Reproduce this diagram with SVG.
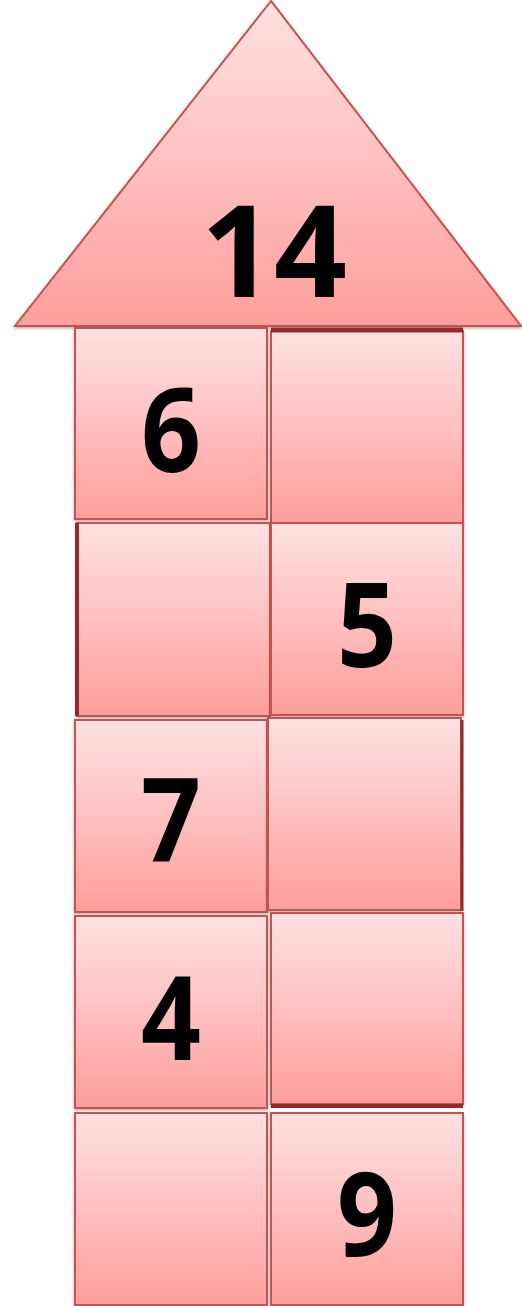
<svg xmlns="http://www.w3.org/2000/svg" width="522" height="1306" viewBox="0 0 522 1306">
<defs>
<linearGradient id="g" x1="0" y1="0" x2="0" y2="1">
<stop offset="0" stop-color="#fee1e1"/>
<stop offset="0.5" stop-color="#ffc0c0"/>
<stop offset="1" stop-color="#fd9e9b"/>
</linearGradient>
<filter id="sh" x="-10%" y="-10%" width="120%" height="120%">
<feDropShadow dx="0" dy="1.5" stdDeviation="1.5" flood-color="#555" flood-opacity="0.45"/>
</filter>
</defs>
<style>
.b{fill:url(#g);stroke:#c65250;stroke-width:2;filter:url(#sh)}
.t{font-family:"Open Sans","Liberation Sans",sans-serif;font-weight:700;fill:#000;text-anchor:middle}
.d{stroke:#922a2a;fill:none}
</style>
<g id="roof">
<polygon class="b" points="271,1 15,326 521,326"/>
<text class="t" x="274" y="297" font-size="128" textLength="146" lengthAdjust="spacingAndGlyphs">14</text>
</g>
<g id="r1l"><rect class="b" x="75" y="328" width="192" height="191"/><text class="t" x="171" y="472" font-size="117" textLength="60" lengthAdjust="spacingAndGlyphs">6</text></g>
<g id="r1r"><rect class="b" x="271" y="331" width="192" height="192"/><line class="d" x1="271" y1="330" x2="463" y2="330" stroke-width="5"/></g>
<g id="r2l"><rect class="b" x="77" y="523" width="193" height="193"/><line class="d" x1="77" y1="523" x2="77" y2="716" stroke-width="4"/></g>
<g id="r2r"><rect class="b" x="271" y="523" width="192" height="192"/><text class="t" x="367" y="667" font-size="117" textLength="60" lengthAdjust="spacingAndGlyphs">5</text></g>
<g id="r3l"><rect class="b" x="75" y="720" width="192" height="192"/><text class="t" x="171" y="862" font-size="117" textLength="60" lengthAdjust="spacingAndGlyphs">7</text></g>
<g id="r3r"><rect class="b" x="268" y="718" width="193" height="192"/><line class="d" x1="462" y1="720" x2="462" y2="911" stroke-width="3"/></g>
<g id="r4l"><rect class="b" x="75" y="916" width="192" height="192"/><text class="t" x="171" y="1060" font-size="117" textLength="60" lengthAdjust="spacingAndGlyphs">4</text></g>
<g id="r4r"><rect class="b" x="271" y="913" width="192" height="191"/><line class="d" x1="271" y1="1106" x2="463" y2="1106" stroke-width="4"/></g>
<g id="r5l"><rect class="b" x="75" y="1113" width="192" height="192"/></g>
<g id="r5r"><rect class="b" x="271" y="1113" width="192" height="192"/><text class="t" x="367" y="1256" font-size="117" textLength="60" lengthAdjust="spacingAndGlyphs">9</text></g>
<g id="connectors"/>
</svg>
